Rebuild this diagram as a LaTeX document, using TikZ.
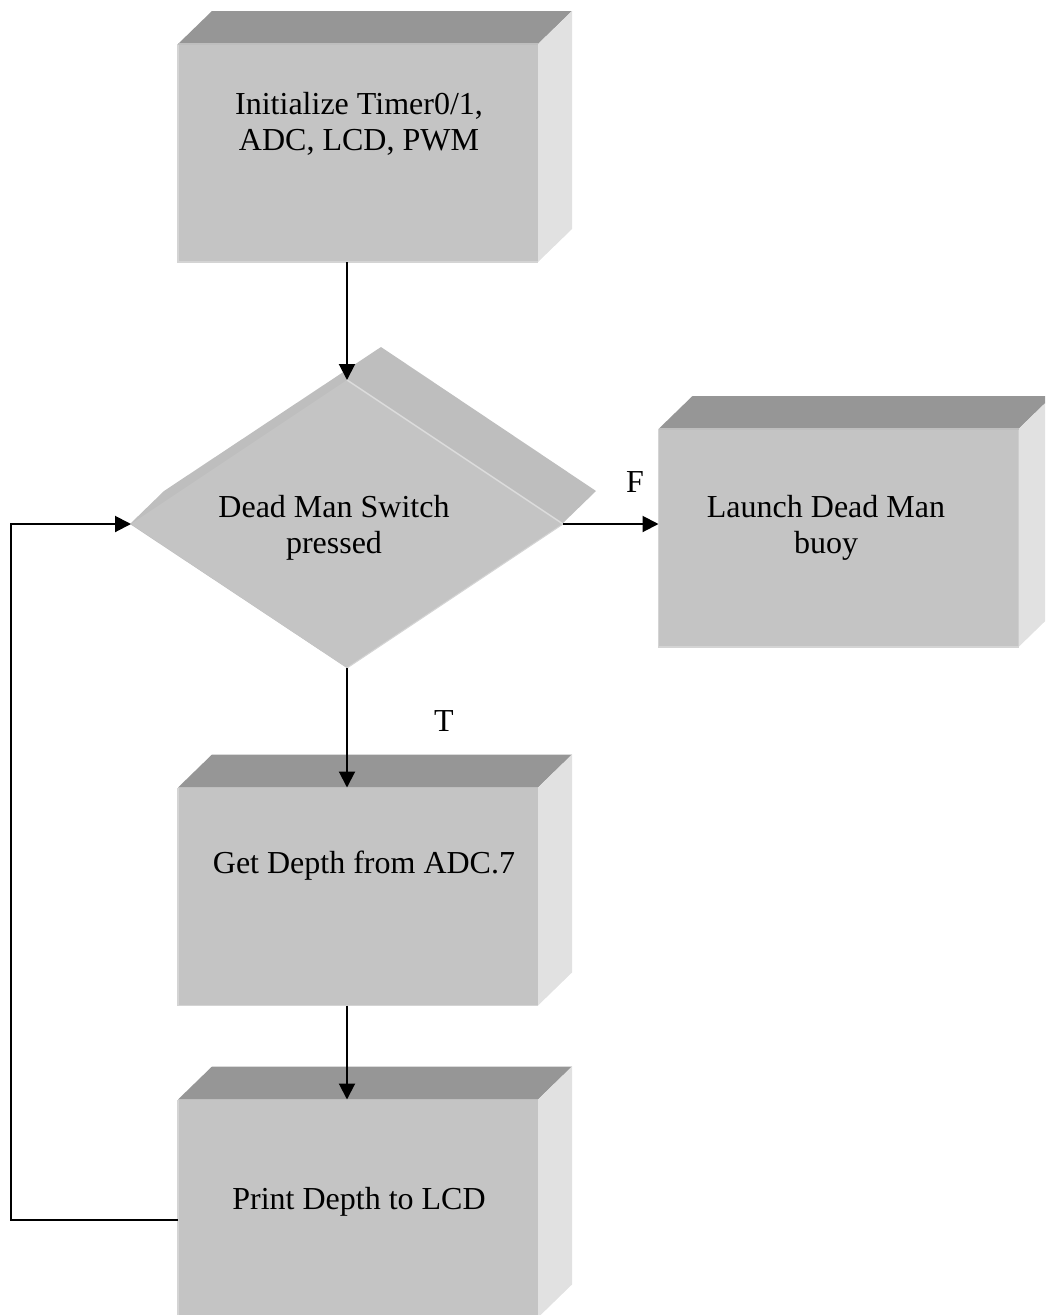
\documentclass[tikz,border=0pt]{standalone}
\usepackage{fontspec}
\setmainfont{Liberation Serif}
\usetikzlibrary{shapes.geometric,arrows.meta,calc}
\definecolor{frontc}{RGB}{196,196,196}
\definecolor{topc}{RGB}{150,150,150}
\definecolor{sidec}{RGB}{225,225,225}
\definecolor{backc}{RGB}{190,190,190}
\definecolor{edgec}{RGB}{212,212,212}
\definecolor{hic}{RGB}{220,220,220}
\newcommand\cubefaces[1]{%
  \fill[topc] (#1.north west) -- ++(34,-33) -- ($(#1.north east)+(34,-33)$) -- (#1.north east) -- cycle;
  \fill[sidec] (#1.north east) -- ++(34,-33) -- ($(#1.south east)+(34,-33)$) -- (#1.south east) -- cycle;
  \draw[edgec,line width=1.5pt] (#1.north west) -- (#1.south west) -- (#1.south east);
  \draw[backc,line width=1.5pt] (#1.north west) -- (#1.north east);}
\begin{document}
\begin{tikzpicture}[x=1pt,y=-1pt,
  stepbox/.style={rectangle,fill=frontc,minimum width=360pt,minimum height=218pt,inner sep=0pt,outer sep=0pt},
  decide/.style={diamond,fill=frontc,minimum width=432pt,minimum height=288pt,inner sep=0pt,outer sep=0pt},
  txt/.style={font=\fontsize{32}{36}\selectfont,align=center,inner sep=0pt},
  conn/.style={line width=2pt,-{Triangle[length=16pt,width=16pt]}},
  plain/.style={line width=2pt}]
\useasboundingbox (0,0) rectangle (1045,1315);
\clip (0,0) rectangle (1045,1315);

% boxes
\node[stepbox] (b1) at (358,153) {};
\cubefaces{b1}
\node[stepbox] (b3) at (838.5,538) {};
\cubefaces{b3}
\node[stepbox] (b2) at (358,896.5) {};
\cubefaces{b2}
\node[stepbox] (b4) at (358,1208.5) {};
\cubefaces{b4}

% decision diamond with depth
\coordinate (dc) at (347,524);
\fill[backc] (130,524) -- (164,491) -- (381,347) -- (596,491) -- (562,524) -- (347,668) -- cycle;
\node[decide] (d) at (dc) {};
\draw[hic,line width=1.5pt] (d.north) -- (d.east);
\draw[edgec,line width=1pt] (d.east) -- (d.south);

% texts
\node[txt] (t1) at (359,124) {Initialize Timer0/1,\\ADC, LCD, PWM};
\node[txt] (td) at (334,528) {Dead Man Switch\\pressed};
\node[txt] (t3) at (826,528) {Launch Dead Man\\buoy};
\node[txt] (t2) at (364,866) {Get Depth from ADC.7};
\node[txt] (t4) at (359,1202) {Print Depth to LCD};
\node[txt] (lf) at (635,482) {F};
\node[txt] (lt) at (444,721) {T};

% connectors
\draw[conn] (d.north |- b1.south) -- (d.north);
\draw[conn] (d.east) -- (d.east -| b3.west);
\draw[conn] (d.south) -- (d.south |- b2.north);
\draw[conn] (d.south |- b2.south) -- (d.south |- b4.north);
\coordinate (lp) at (11,1220);
\draw[conn] (lp -| b4.west) -- (lp) -- (lp |- d.west) -- (d.west);
\end{tikzpicture}
\end{document}
